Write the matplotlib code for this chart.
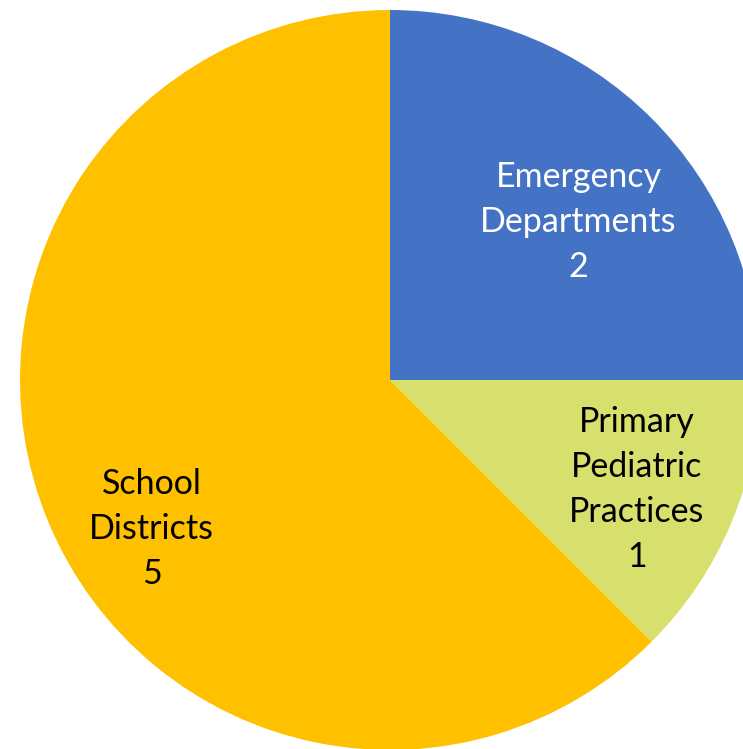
import numpy as np
import matplotlib.pyplot as plt

labels = ['Emergency\nDepartments', 'Primary\nPediatric\nPractices', 'School\nDistricts']
values = [2, 1, 5]
colors = ['#4472C4', '#D7E06C', '#FFC000']
text_colors = ['white', 'black', 'black']

# label placement (angle in degrees, distance from centre as fraction of radius)
label_angle = [40, -24, 212]
label_dist = [0.665, 0.73, 0.76]

plt.rcParams['font.family'] = ['Lato', 'DejaVu Sans']

fig = plt.figure(figsize=(7.43, 7.49), dpi=100)
ax = fig.add_axes([0, 0, 1, 1])

R = 370.0  # pie radius in pixels
ax.pie(values, colors=colors, startangle=90, counterclock=False,
       radius=1, center=(0, 0), wedgeprops=dict(linewidth=0))

for lab, v, tc, ang, d in zip(labels, values, text_colors, label_angle, label_dist):
    a = np.radians(ang)
    ax.text(d * np.cos(a), d * np.sin(a), f'{lab}\n{v}', ha='center', va='center',
            color=tc, fontsize=24.5, linespacing=1.5)

ax.set_xlim(-390 / R, (743 - 390) / R)
ax.set_ylim(-(749 - 380) / R, 380 / R)
ax.set_aspect('equal')
ax.axis('off')

fig.savefig('out.png', dpi=100)
